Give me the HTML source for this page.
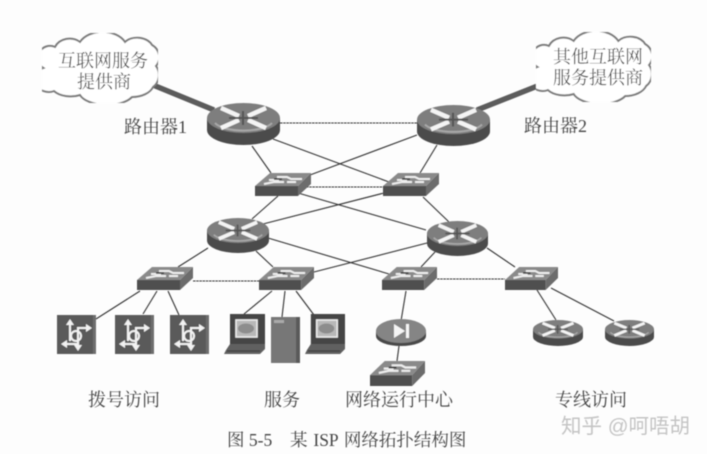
<!DOCTYPE html>
<html><head><meta charset="utf-8">
<style>
html,body{margin:0;padding:0;background:#fdfdfd;width:707px;height:454px;overflow:hidden}
svg{display:block}
text{font-family:"Liberation Serif","Noto Serif CJK SC",serif;fill:#454545;font-size:18px}
</style></head><body>
<svg width="707" height="454" viewBox="0 0 707 454" xmlns="http://www.w3.org/2000/svg">
<defs>
<filter id="b" x="-5%" y="-5%" width="110%" height="110%"><feGaussianBlur stdDeviation="0.4"/></filter>
<symbol id="cloud" viewBox="0 0 116 70" preserveAspectRatio="none">
<path d="M1.5 35A12 12 0 0 1 13 14A16 14 0 0 1 38 9A25 18 0 0 1 83 9A16 12 0 0 1 110 12A14 14 0 0 1 114 33A12 14 0 0 1 111 54A22 14 0 0 1 90 64A28 14 0 0 1 38 62A20 12 0 0 1 12 58A13 12 0 0 1 1.5 35Z" fill="#fff" stroke="#7c7c7c" stroke-width="2"/>
</symbol>
<symbol id="router" viewBox="0 0 73 42" preserveAspectRatio="none">
<path d="M0 15V27A36.5 15 0 0 0 73 27V15Z" fill="#4c4c4c"/>
<ellipse cx="36.5" cy="15" rx="36.5" ry="15" fill="#7e7e7e"/>
<path d="M8 20A30 11 0 0 0 65 20" stroke="#a8a8a8" stroke-width="2" fill="none"/>
<path d="M14 5L32 13M59 5L41 13M14 25L32 17M59 25L41 17" stroke="#f4f4f4" stroke-width="4.5"/>
<path d="M22 15H51M36 8V22" stroke="#555" stroke-width="2"/>
</symbol>
<symbol id="switch" viewBox="0 0 56 23" preserveAspectRatio="none">
<path d="M0 13L15 0H56L43 13Z" fill="#8a8a8a"/>
<path d="M0 13H43V23H0Z" fill="#505050"/>
<path d="M43 13L56 0V11L43 23Z" fill="#6c6c6c"/>
<path d="M9 11L19 9H29M22 4H32L36 6H47M14 7H24M32 9H41" stroke="#eee" stroke-width="2" fill="none"/>
<path d="M19 6H27" stroke="#333" stroke-width="1.5"/>
</symbol>
<symbol id="dial" viewBox="0 0 39 39" preserveAspectRatio="none">
<rect width="39" height="39" fill="#5a5a5a"/>
<rect x="36" width="3" height="39" fill="#6e6e6e"/>
<path d="M13 8V26M6 29H21V13H31M14 21A5 5 0 1 0 24 21A5 5 0 1 0 14 21M21 26V33" stroke="#f2f2f2" stroke-width="2" fill="none"/>
<path d="M13 4L9 10H17ZM4 29L10 25V33ZM35 13L29 9V17ZM21 36L17 30H25Z" fill="#f2f2f2"/>
</symbol>
<symbol id="pc" viewBox="0 0 41 41" preserveAspectRatio="none">
<path d="M6 0H41V30H6Z" fill="#444"/>
<rect x="12" y="6" width="21" height="17" fill="#b8b8b8" stroke="#eee" stroke-width="1.5"/>
<ellipse cx="22" cy="14.5" rx="8" ry="5" fill="#8d8d8d"/>
<path d="M6 30H41V35L36 40H0L2 36Z" fill="#606060"/>
<path d="M3 37H36" stroke="#333" stroke-width="1"/>
</symbol>
<symbol id="server" viewBox="0 0 29 46" preserveAspectRatio="none">
<rect width="29" height="46" fill="#777"/>
<rect x="25" width="4" height="46" fill="#5a5a5a"/>
<rect x="3" y="3" width="10" height="3" fill="#aaa"/>
</symbol>
<symbol id="dev" viewBox="0 0 50 27" preserveAspectRatio="none">
<path d="M0 12V17A25 10 0 0 0 50 17V12Z" fill="#4a4a4a"/>
<ellipse cx="25" cy="12" rx="25" ry="12" fill="#858585"/>
<path d="M18 5L29 12L18 19Z" fill="#f5f5f5"/>
<rect x="30" y="5" width="3" height="14" fill="#f5f5f5"/>
</symbol>
</defs>
<g filter="url(#b)">
<g stroke="#333" stroke-width="1.1" fill="none">
<path d="M273 139L389 182M417 135L310 175M252 146L271 173M437 145L420 173M278 196L252 219M298 193L426 230M384 193L263 224M423 197L449 222M208 248L178 267M256 251L273 267M268 238L389 274M427 243L314 272M435 252L421 267M487 248L515 267M140 291L96 319M157 291L143 314M168 291L179 315M272 291L244 314M285 291L282 317M296 291L314 315M406 291L401 321M399 346L397 361M537 290L556 320M551 288L614 321"/>
<path d="M280 123H417M306 187H385M193 281H259M437 279H505" stroke-dasharray="2.5 .7"/>
<path d="M153 85L214 110M545 83L477 110" stroke="#5c5c5c" stroke-width="5.5"/>
</g>
<use href="#cloud" x="42" y="33" width="116" height="70"/>
<use href="#cloud" x="536" y="32" width="115" height="70"/>
<use href="#router" x="207" y="103" width="73" height="42"/>
<use href="#router" x="417" y="105" width="73" height="41"/>
<use href="#router" x="207" y="218" width="62" height="35"/>
<use href="#router" x="427" y="221" width="61" height="35"/>
<use href="#router" x="533" y="320" width="50" height="26"/>
<use href="#router" x="605" y="320" width="49" height="26"/>
<use href="#switch" x="255" y="173" width="56" height="23"/>
<use href="#switch" x="383" y="173" width="56" height="23"/>
<use href="#switch" x="137" y="267" width="56" height="23"/>
<use href="#switch" x="259" y="267" width="55" height="23"/>
<use href="#switch" x="382" y="267" width="55" height="23"/>
<use href="#switch" x="505" y="267" width="53" height="23"/>
<use href="#switch" x="370" y="361" width="55" height="25"/>
<use href="#dial" x="57" y="315" width="39" height="39"/>
<use href="#dial" x="115" y="315" width="39" height="39"/>
<use href="#dial" x="170" y="315" width="39" height="39"/>
<use href="#pc" x="224" y="314" width="41" height="41"/>
<use href="#server" x="271" y="317" width="29" height="46"/>
<use href="#pc" x="305" y="314" width="40" height="41"/>
<use href="#dev" x="376" y="319" width="50" height="27"/>
<text x="58" y="67">互联网服务</text>
<text x="77" y="88">提供商</text>
<text x="553" y="63">其他互联网</text>
<text x="553" y="84">服务提供商</text>
<text x="124" y="133">路由器1</text>
<text x="524" y="132">路由器2</text>
<text x="88" y="406">拨号访问</text>
<text x="264" y="406">服务</text>
<text x="345" y="406">网络运行中心</text>
<text x="555" y="406">专线访问</text>
<text x="227" y="446" style="font-size:17.5px">图 5-5</text>
<text x="290" y="446" style="font-size:17.5px;word-spacing:1.5px">某 ISP 网络拓扑结构图</text>
<text x="561" y="433" style="font-size:20.5px;fill:#c4c4c4;font-family:'Liberation Sans','Noto Sans CJK SC',sans-serif">知乎 @呵唔胡</text>
</g>
</svg>
</body></html>
